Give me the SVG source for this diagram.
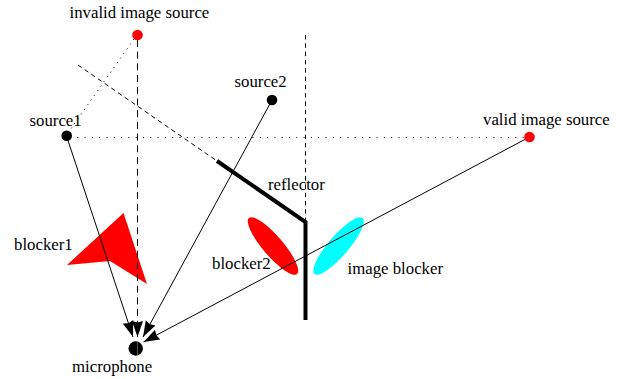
<svg xmlns="http://www.w3.org/2000/svg" width="626" height="379" viewBox="0 0 626 379">
<defs>
<marker id="a" markerUnits="userSpaceOnUse" markerWidth="17" markerHeight="12" refX="16" refY="6" orient="auto" viewBox="0 0 17 12"><path d="M0 0.500L16 6L0 11.500L1.500 6Z" fill="#000"/></marker>
</defs>
<style>
text{font-family:"Liberation Serif","Times New Roman",serif;font-size:16.8px;fill:#000}
.c{fill:none;stroke:#000;stroke-width:1}
.p{fill:#000}.r{fill:#f00}.y{fill:#0ff}
</style>
<g id="blocker1"><polygon class="r" points="123.5,213 67,265 110,261 147,284"/><text x="14" y="250">blocker1</text></g>
<g id="blocker2"><ellipse class="r" cx="273" cy="246" rx="37" ry="10" transform="rotate(49.400 273 246)"/><text x="212" y="269">blocker2</text></g>
<g id="image-blocker"><ellipse class="y" cx="338.500" cy="246" rx="37" ry="10" transform="rotate(-49.400 338.500 246)"/><text x="347.500" y="274">image blocker</text></g>
<g id="connectors">
<path class="c" stroke-dasharray="4.500 3.600" d="M78 65L217 161"/>
<path class="c" stroke-dasharray="4.500 3.800" d="M305.500 35V222"/>
<path class="c" stroke-dasharray="1 6.300" d="M70 137.500H529"/>
<path class="c" stroke-dasharray="1 4.700" d="M134 39L70 130"/>
<path class="c" stroke-dasharray="7 4.700" d="M137.500 40V337" marker-end="url(#a)"/>
<path class="c" d="M66.500 136L133 337" marker-end="url(#a)"/>
<path class="c" d="M272 100L143 337" marker-end="url(#a)"/>
<path class="c" d="M529.500 137L143.500 342" marker-end="url(#a)"/>
</g>
<g id="reflector"><polyline points="217,161 305.500,222 305.500,320" fill="none" stroke="#000" stroke-width="4"/><text x="268" y="189.500">reflector</text></g>
<g id="invalid-image-source"><circle class="r" cx="137.500" cy="35" r="5.300"/><text x="69.500" y="18">invalid image source</text></g>
<g id="source1"><circle class="p" cx="66.700" cy="135.800" r="5.300"/><text x="29.500" y="126">source1</text></g>
<g id="source2"><circle class="p" cx="272" cy="100" r="5.300"/><text x="234.500" y="87">source2</text></g>
<g id="valid-image-source"><circle class="r" cx="529.500" cy="137" r="5.300"/><text x="483" y="125">valid image source</text></g>
<g id="microphone"><circle class="p" cx="135.700" cy="348.500" r="7.200"/><path d="M137.500 341.500V355.500" stroke="#888" stroke-width="0.600"/><text x="72" y="372">microphone</text></g>
</svg>
